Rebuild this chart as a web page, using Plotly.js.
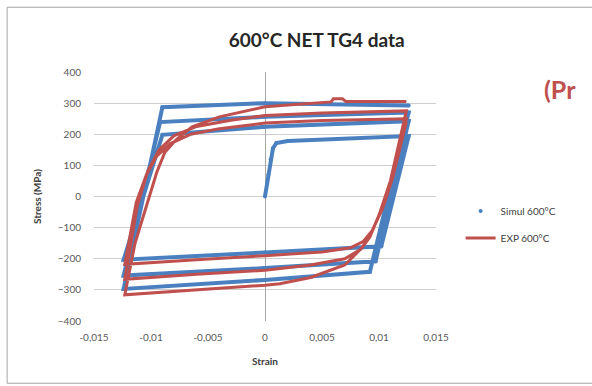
<!DOCTYPE html>
<html>
<head>
<meta charset="utf-8">
<script src="https://cdn.plot.ly/plotly-3.0.1.min.js"></script>
<style>
html,body{margin:0;padding:0;background:#fff;}
#chart{width:592px;height:386px;}
</style>
</head>
<body>
<div id="chart"></div>
<script>
// ---- Data ----
// Simulation (blue dots): initial loading then three strain-controlled cycles
var simStrain = [0, 0.0003, 0.0005, 0.0007, 0.0010, 0.0020, 0.0126,
                 0.0102, 0, -0.0124,
                 -0.0090, 0, 0.0126,
                 0.0097, 0, -0.0124,
                 -0.0092, 0, 0.0126,
                 0.0092, 0, -0.0124,
                 -0.0090, 0, 0.0126];
var simStress = [0, 70, 120, 155, 172, 178, 194,
                 -160, -180, -203,
                 198, 224, 242,
                 -208, -230, -254,
                 239, 256, 270,
                 -242, -268, -297,
                 287, 300, 292];

// Experiment (red line): hysteresis loops
var expStrain = [0.0124, 0.0112, 0.0103, 0.0094, 0.0086, 0.0075, 0.0050, 0.0020, 0, -0.0060, -0.0123,
                 -0.0113, -0.0104, -0.0095, -0.0083, -0.0065, -0.0040, 0, 0.0050, 0.0124,
                 0.0110, 0.0100, 0.0092, 0.0084, 0.0070, 0.0040, 0.0013, 0, -0.0060, -0.0123,
                 -0.0112, -0.0103, -0.0093, -0.0080, -0.0060, -0.0030, 0, 0.0050, 0.0124,
                 0.0110, 0.0100, 0.0093, 0.0085, 0.0070, 0.0040, 0.0013, 0, -0.0060, -0.0123,
                 -0.0114, -0.0104, -0.0095, -0.0088, -0.0078, -0.0064, -0.0040, 0, 0.0040, 0.0058, 0.0060, 0.0068, 0.0071, 0.0124];
var expStress = [240, 60, -40, -110, -145, -165, -178, -186, -190, -203, -218,
                 -20, 70, 130, 170, 200, 218, 236, 244, 250,
                 40, -60, -130, -170, -200, -220, -230, -237, -250, -266,
                 -30, 80, 150, 195, 225, 245, 260, 268, 275,
                 50, -60, -120, -165, -220, -260, -280, -285, -300, -316,
                 -150, -32, 77, 141, 182, 224, 256, 288, 300, 304, 314, 314, 305, 305];

var xTickVals = [-0.015, -0.01, -0.005, 0, 0.005, 0.01, 0.015];
var xTickText = ['-0,015', '-0,01', '-0,005', '0', '0,005', '0,01', '0,015'];
var yTickVals = [-400, -300, -200, -100, 0, 100, 200, 300, 400];

var simName = 'Simul 600°C';
var expName = 'EXP 600°C';

var BLUE = '#4a80c0';
var RED = '#c0504d';
var FONT = 'Lato, "Open Sans", sans-serif';

var traces = [
  {x: simStrain, y: simStress, type: 'scatter', mode: 'lines', name: simName,
   legendgroup: 'sim', showlegend: false, line: {color: BLUE, width: 4}},
  {x: simStrain, y: simStress, type: 'scatter', mode: 'markers', name: simName,
   legendgroup: 'sim', marker: {color: BLUE, size: 4}},
  {x: expStrain, y: expStress, type: 'scatter', mode: 'lines', name: expName,
   legendgroup: 'exp', line: {color: RED, width: 3}}
];

var layout = {
  width: 592, height: 386,
  margin: {l: 94, r: 156, t: 72, b: 65},
  paper_bgcolor: '#ffffff', plot_bgcolor: '#ffffff',
  font: {family: FONT, color: '#595959', size: 10},
  title: {text: '600°C NET TG4 data', x: 0.535, xref: 'container', xanchor: 'center',
          y: 0.895, yref: 'container', yanchor: 'middle',
          font: {family: FONT, size: 19, color: '#262626', weight: 'bold'}},
  xaxis: {range: [-0.015, 0.015], tickvals: xTickVals, ticktext: xTickText,
          showgrid: false, zeroline: true, zerolinecolor: '#a6a6a6', zerolinewidth: 1,
          showline: false, ticks: '', ticklabelstandoff: 9,
          tickfont: {family: FONT, size: 10, color: '#595959'},
          title: {text: 'Strain', standoff: 15, font: {family: FONT, size: 10, color: '#404040', weight: 'bold'}}},
  yaxis: {range: [-400, 400], tickvals: yTickVals, showgrid: true, gridcolor: '#cfcfcf', gridwidth: 1,
          zeroline: false, showline: false, ticks: '', ticklabelstandoff: 12,
          tickfont: {family: FONT, size: 10, color: '#595959'},
          title: {text: 'Stress (MPa)', standoff: 14, font: {family: FONT, size: 10, color: '#404040', weight: 'bold'}}},
  showlegend: true,
  legend: {x: 1.072, y: 0.5, xanchor: 'left', yanchor: 'top', traceorder: 'grouped',
           tracegroupgap: 8, bgcolor: 'rgba(0,0,0,0)',
           font: {family: FONT, size: 10, color: '#404040'}},
  annotations: [
    {text: '(Pr', xref: 'paper', yref: 'paper', x: 1.31, y: 0.93, xanchor: 'left', yanchor: 'middle',
     showarrow: false, font: {family: FONT, size: 25, color: RED, weight: 'bold'}}
  ],
  shapes: [
    {type: 'rect', xref: 'paper', yref: 'paper', x0: -0.254, x1: 1.6, y0: -0.25, y1: 1.26,
     line: {color: '#a6a6a6', width: 1}, fillcolor: 'rgba(0,0,0,0)', layer: 'below'}
  ]
};

Plotly.newPlot('chart', traces, layout, {displayModeBar: false, staticPlot: true});
</script>
</body>
</html>
